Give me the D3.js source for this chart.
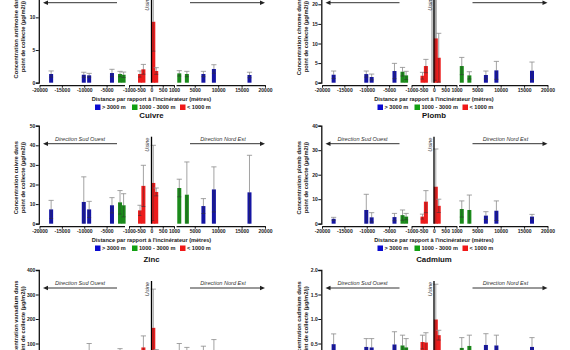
<!DOCTYPE html>
<html><head><meta charset="utf-8">
<script src="https://cdn.jsdelivr.net/npm/d3@7"></script>
<style>body{margin:0;background:#fff}svg{display:block;font-family:"Liberation Sans",Arial,sans-serif}</style>
</head><body><svg id="c" width="570" height="350"></svg>
<script>
// ---- data ----
const distances = [-17400, -10100, -8900, -3800, -2000, -1200, -510, -360, 80, 210, 1700, 3320, 6850, 9090, 16690];
const groups = ["far","far","far","far","mid","mid","near","near","near","near","mid","mid","far","far","far"];
const legendKeys = ["far","mid","near"];
const legendLabels = ["> 3000 m", "1000 - 3000 m", "< 1000 m"];

const antimoineMean = [1.33,1.22,1.13,1.48,1.33,1.22,1.33,2.05,9.33,1.79,1.43,1.33,1.33,2.1,1.18];
const antimoineSD   = [0.47,0.38,0.30,0.57,0.41,0.41,0.47,0.75,4.5,0.51,0.41,0.41,0.41,0.65,0.42];
const chromeMean = [2.04,2.2,1.45,2.98,2.8,1.87,1.78,4.25,11.3,6.37,4.25,1.87,1.96,3.15,3.05];
const chromeSD   = [0.94,0.78,0.75,1.95,1.1,1.03,0.86,1.7,10.7,6.23,2.2,0.93,1.02,2.29,2.22];
const cuivreMean = [7.3,11.1,7.3,9.4,10.9,9.4,6.8,19.3,20.8,16.2,18.2,14.8,9.0,17.5,16.0];
const cuivreSD   = [4.6,12.8,4.1,3.9,6.0,5.9,2.6,10.5,19.2,2.0,4.5,16.7,3.8,11.5,18.9];
const plombMean = [2.0,5.6,2.6,2.7,3.5,2.9,2.9,9.0,15.1,7.3,6.0,5.6,3.3,5.3,2.9];
const plombSD   = [0.6,6.4,1.9,1.5,2.1,1.3,1.0,4.5,15.4,2.7,3.3,6.1,1.6,4.0,0.9];
const zincMean = [40,45,55,40,50,40,45,84,164,50,60,55,55,65,40];
const zincSD   = [20,25,45,25,29,20,20,47,158,25,40,29,34,51,20];
const cadmiumMean = [0.486,0.43,0.42,0.48,0.46,0.42,0.53,0.52,0.99,0.67,0.41,0.45,0.47,0.46,0.43];
const cadmiumSD   = [0.21,0.17,0.18,0.26,0.21,0.18,0.14,0.20,0.72,0.10,0.21,0.22,0.23,0.21,0.19];

const yTicksAntimoine = [0,5,10,15];
const yTicksChrome = [0,5,10,15,20,25];
const yTicksCuivre = [0,10,20,30,40,50];
const yTicksPlomb = [0,10,20,30,40];
const yTicksZinc = [0,100,200,300,400];
const yTicksCadmium = [0,0.5,1.0,1.5,2.0];

const segDomains = [[-20000,-1000],[-1000,1000],[1000,20000]];
const segTicks = [[-20000,-15000,-10000,-5000],[-1000,-500,0,500,1000],[5000,10000,15000,20000]];

const xTitle = "Distance par rapport à l'incinérateur (mètres)";
const yLabel2 = "point de collecte (µg/m2/j)";

const panels = [
  {title:"Antimoine", ylab:"Concentration antimoine dans", mean:antimoineMean, sd:antimoineSD, ticks:yTicksAntimoine, fmt:d3.format("d"), col:0, row:0},
  {title:"Chrome", ylab:"Concentration chrome dans", mean:chromeMean, sd:chromeSD, ticks:yTicksChrome, fmt:d3.format("d"), col:1, row:0, band:true},
  {title:"Cuivre", ylab:"Concentration cuivre dans", mean:cuivreMean, sd:cuivreSD, ticks:yTicksCuivre, fmt:d3.format("d"), col:0, row:1},
  {title:"Plomb", ylab:"Concentration plomb dans", mean:plombMean, sd:plombSD, ticks:yTicksPlomb, fmt:d3.format("d"), col:1, row:1},
  {title:"Zinc", ylab:"Concentration vanadium dans", mean:zincMean, sd:zincSD, ticks:yTicksZinc, fmt:d3.format("d"), col:0, row:2},
  {title:"Cadmium", ylab:"Concentration cadmium dans", mean:cadmiumMean, sd:cadmiumSD, ticks:yTicksCadmium, fmt:d3.format(".1f"), col:1, row:2}
];

// ---- layout ----
const colors = {far:"#1515a3", mid:"#1b8a1b", near:"#ec1c1c"};
const legendColors = {far:"#0a0ad0", mid:"#12a012", near:"#f01818"};
const colOffset = [0, 282.5];
const rowTop = [-15.3, 125.7, 270];
const plotH = 98;
const segRanges = [[39.5,124.5],[129,174],[176,265]];
const yAxisX = 38.8;
const barW = 4;

const svg = d3.select("#c");

panels.forEach(p => {
  const ox = colOffset[p.col];
  const top = rowTop[p.row];
  const y0 = top + plotH;
  const g = svg.append("g");
  const segScales = segDomains.map((d,i) => d3.scaleLinear().domain(d).range(segRanges[i].map(v => v + ox)));
  const xs = d => d < -1000 ? segScales[0](d) : (d <= 1000 ? segScales[1](d) : segScales[2](d));
  const y = d3.scaleLinear().domain([0, p.ticks[p.ticks.length-1]]).range([y0, top]);

  // title
  g.append("text").attr("x", ox + 151.5).attr("y", top - 8.1).attr("text-anchor","middle")
    .attr("font-size", 7.8).attr("font-weight","bold").attr("fill","#111").text(p.title);

  // y axis
  const ya = g.append("g").attr("transform", `translate(${ox + yAxisX},0)`)
    .call(d3.axisLeft(y).tickValues(p.ticks).tickSize(3).tickFormat(p.fmt));
  ya.select(".domain").attr("stroke","#111").attr("stroke-width",1.3);
  ya.selectAll(".tick line").attr("stroke","#111").attr("stroke-width",1);
  ya.selectAll(".tick text").attr("font-size",5).attr("font-weight","bold").attr("fill","#222")
    .attr("font-family","Liberation Sans, Arial, sans-serif").attr("x",-3.5);

  // y labels
  const ylx = ox + yAxisX - 20.5;
  const ylc = top + plotH/2 + 3;
  [p.ylab, yLabel2].forEach((t,i) => {
    g.append("text").attr("transform", `translate(${ylx + i*7},${ylc}) rotate(-90)`)
      .attr("text-anchor","middle").attr("font-size",5.8).attr("font-weight","bold").attr("fill","#222").text(t);
  });

  // x axis segments
  segScales.forEach((s,i) => {
    const xa = g.append("g").attr("transform", `translate(0,${y0 + 2.5})`)
      .call(d3.axisBottom(s).tickValues(segTicks[i]).tickSize(2.5).tickSizeOuter(0).tickFormat(d => String(d)));
    xa.select(".domain").attr("stroke","#111").attr("stroke-width",1.3);
    xa.selectAll(".tick line").attr("stroke","#111").attr("stroke-width",1);
    xa.selectAll(".tick text").attr("font-size",5).attr("font-weight","bold").attr("fill","#222")
      .attr("font-family","Liberation Sans, Arial, sans-serif").attr("y",3.5);
  });

  // x title
  g.append("text").attr("x", ox + 151.5).attr("y", y0 + 18).attr("text-anchor","middle")
    .attr("font-size",5.6).attr("font-weight","bold").attr("fill","#222").text(xTitle);

  // legend
  const lgX = [95, 132, 180];
  legendKeys.forEach((k,i) => {
    g.append("rect").attr("x", ox + lgX[i]).attr("y", y0 + 21.8).attr("width",5.5).attr("height",5.5).attr("fill", legendColors[k]);
    g.append("text").attr("x", ox + lgX[i] + 7).attr("y", y0 + 26.6).attr("font-size",5.6).attr("font-weight","bold")
      .attr("fill","#222").text(legendLabels[i]);
  });

  // direction arrows
  const ay = top + 18;
  const drawArrow = (x1, x2) => {
    g.append("line").attr("x1", x1).attr("x2", x2 + (x2 > x1 ? -4 : 4)).attr("y1", ay).attr("y2", ay).attr("stroke","#333").attr("stroke-width",1);
    const dir = x2 > x1 ? 1 : -1;
    g.append("path").attr("d", `M${x2},${ay} L${x2 - dir*5},${ay-2.2} L${x2 - dir*5},${ay+2.2} Z`).attr("fill","#222");
  };
  drawArrow(ox + 117, ox + 43);
  drawArrow(ox + 190, ox + 265);
  g.append("text").attr("x", ox + 80).attr("y", top + 15.2).attr("text-anchor","middle").attr("font-size",5.6)
    .attr("font-style","italic").attr("fill","#333").text("Direction Sud Ouest");
  g.append("text").attr("x", ox + 223).attr("y", top + 15.2).attr("text-anchor","middle").attr("font-size",5.6)
    .attr("font-style","italic").attr("fill","#333").text("Direction Nord Est");

  // usine
  const ux = xs(0);
  if (p.band) g.append("rect").attr("x", ux - 3).attr("y", top + 11).attr("width", 6).attr("height", y0 - top - 11).attr("fill","#c4c4c4");

  // bars
  const n = distances.length;
  for (let i = 0; i < n; i++) {
    const cx = xs(distances[i]);
    const m = p.mean[i], s = p.sd[i];
    g.append("rect").attr("x", cx - barW/2).attr("y", y(m)).attr("width", barW).attr("height", y0 - y(m)).attr("fill", colors[groups[i]]);
    g.append("line").attr("x1",cx).attr("x2",cx).attr("y1",y(m)).attr("y2",y(m+s)).attr("stroke","#8c8c8c").attr("stroke-width",0.8);
    g.append("line").attr("x1",cx-2.6).attr("x2",cx+2.6).attr("y1",y(m+s)).attr("y2",y(m+s)).attr("stroke","#8c8c8c").attr("stroke-width",0.8);
    const lo = Math.max(0, m - s);
    g.append("line").attr("x1",cx).attr("x2",cx).attr("y1",y(m)).attr("y2",y(lo)).attr("stroke","#333").attr("stroke-width",0.6).attr("opacity",0.7);
    if (lo > 0) g.append("line").attr("x1",cx-2).attr("x2",cx+2).attr("y1",y(lo)).attr("y2",y(lo)).attr("stroke","#333").attr("stroke-width",0.7).attr("opacity",0.8);
  }

  g.append("line").attr("x1", ux).attr("x2", ux).attr("y1", top + 11).attr("y2", y0).attr("stroke","#000").attr("stroke-width",1.3);
  g.append("text").attr("transform", `translate(${ux - 2.5},${top + 19}) rotate(-90)`).attr("text-anchor","middle")
    .attr("font-size",5.6).attr("font-style","italic").attr("fill","#333").text("Usine");
});
</script></body></html>
